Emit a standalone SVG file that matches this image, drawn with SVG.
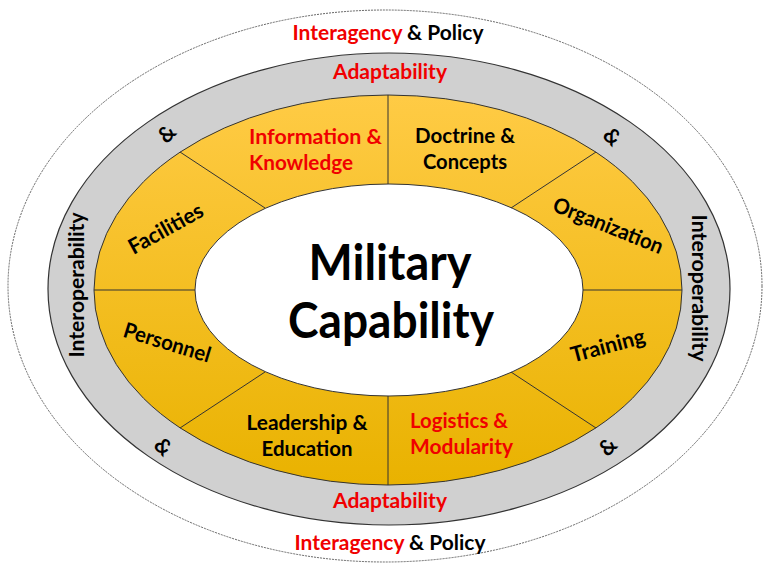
<svg xmlns="http://www.w3.org/2000/svg" width="763" height="564" viewBox="0 0 763 564">
  <style>
    .t { font-family: Lato, "Liberation Sans", sans-serif; font-weight: bold; font-size: 21.5px; fill: #000; }
    .red { fill: #f00000; }
    .big { font-size: 49px; }
    .div { stroke: #333; stroke-width: 1; fill: none; }
  </style>
  <defs>
    <linearGradient id="gold" x1="0" y1="0" x2="0" y2="1">
      <stop offset="0" stop-color="#FFCB45"/>
      <stop offset="1" stop-color="#E9B200"/>
    </linearGradient>
  </defs>
  <rect width="763" height="564" fill="#fff"/>
  <g id="outer-ring">
    <ellipse cx="385" cy="286" rx="377" ry="276" fill="#fff" stroke="#666" stroke-width="1" stroke-dasharray="2 1"/>
    <text class="t" x="388" y="40" text-anchor="middle" textLength="191" lengthAdjust="spacingAndGlyphs"><tspan class="red">Interagency</tspan> &amp; Policy</text>
    <text class="t" x="390" y="550" text-anchor="middle" textLength="191" lengthAdjust="spacingAndGlyphs"><tspan class="red">Interagency</tspan> &amp; Policy</text>
  </g>
  <g id="gray-ring">
    <ellipse cx="389" cy="289" rx="341" ry="236" fill="#D0D0D0" stroke="#333" stroke-width="1.2"/>
    <text class="t red" x="390" y="79" text-anchor="middle" textLength="114" lengthAdjust="spacingAndGlyphs">Adaptability</text>
    <text class="t red" x="390" y="508" text-anchor="middle" textLength="114" lengthAdjust="spacingAndGlyphs">Adaptability</text>
    <text class="t" transform="translate(84 285) rotate(-90)" text-anchor="middle" textLength="145" lengthAdjust="spacingAndGlyphs">Interoperability</text>
    <text class="t" transform="translate(692 288) rotate(90)" text-anchor="middle" textLength="147" lengthAdjust="spacingAndGlyphs">Interoperability</text>
    <text class="t" transform="translate(167 134) rotate(-45)" y="7" text-anchor="middle">&amp;</text>
    <text class="t" transform="translate(612 137) rotate(45)" y="7" text-anchor="middle">&amp;</text>
    <text class="t" transform="translate(163 447) rotate(45)" y="7" text-anchor="middle">&amp;</text>
    <text class="t" transform="translate(608 447) rotate(-45)" y="7" text-anchor="middle">&amp;</text>
  </g>
  <g id="gold-ring">
    <ellipse cx="388" cy="290" rx="294" ry="195" fill="url(#gold)" stroke="#333" stroke-width="1"/>
  </g>
  <g id="center">
    <ellipse cx="389" cy="290" rx="194" ry="106" fill="#fff" stroke="#333" stroke-width="1"/>
    <text class="t big" x="390" y="280" text-anchor="middle" textLength="163" lengthAdjust="spacingAndGlyphs">Military</text>
    <text class="t big" x="391" y="338" text-anchor="middle" textLength="206" lengthAdjust="spacingAndGlyphs">Capability</text>
  </g>
  <g id="connectors">
    <line class="div" x1="388" y1="95" x2="388" y2="184"/>
    <line class="div" x1="388" y1="396" x2="388" y2="485"/>
    <line class="div" x1="94" y1="290" x2="195" y2="290"/>
    <line class="div" x1="583" y1="290" x2="682" y2="290"/>
    <line class="div" x1="180" y1="152" x2="265" y2="208"/>
    <line class="div" x1="596" y1="152" x2="511" y2="208"/>
    <line class="div" x1="180" y1="428" x2="265" y2="372"/>
    <line class="div" x1="596" y1="428" x2="511" y2="372"/>
  </g>
  <g id="information-knowledge">
    <text class="t red" x="249" y="144" textLength="133" lengthAdjust="spacingAndGlyphs">Information &amp;</text>
    <text class="t red" x="249" y="170" textLength="104" lengthAdjust="spacingAndGlyphs">Knowledge</text>
  </g>
  <g id="doctrine-concepts">
    <text class="t" x="465" y="143" text-anchor="middle" textLength="100" lengthAdjust="spacingAndGlyphs">Doctrine &amp;</text>
    <text class="t" x="465" y="169" text-anchor="middle" textLength="84" lengthAdjust="spacingAndGlyphs">Concepts</text>
  </g>
  <g id="organization">
    <text class="t" transform="translate(608 226) rotate(22)" y="7" text-anchor="middle" textLength="117" lengthAdjust="spacingAndGlyphs">Organization</text>
  </g>
  <g id="training">
    <text class="t" transform="translate(608 346) rotate(-15)" y="7" text-anchor="middle" textLength="76" lengthAdjust="spacingAndGlyphs">Training</text>
  </g>
  <g id="logistics-modularity">
    <text class="t red" x="410" y="428" textLength="98" lengthAdjust="spacingAndGlyphs">Logistics &amp;</text>
    <text class="t red" x="410" y="454" textLength="103" lengthAdjust="spacingAndGlyphs">Modularity</text>
  </g>
  <g id="leadership-education">
    <text class="t" x="307" y="430" text-anchor="middle" textLength="121" lengthAdjust="spacingAndGlyphs">Leadership &amp;</text>
    <text class="t" x="307" y="456" text-anchor="middle" textLength="91" lengthAdjust="spacingAndGlyphs">Education</text>
  </g>
  <g id="personnel">
    <text class="t" transform="translate(167 343) rotate(17)" y="7" text-anchor="middle" textLength="90" lengthAdjust="spacingAndGlyphs">Personnel</text>
  </g>
  <g id="facilities">
    <text class="t" transform="translate(166 229) rotate(-29)" y="7" text-anchor="middle" textLength="82" lengthAdjust="spacingAndGlyphs">Facilities</text>
  </g>
</svg>
